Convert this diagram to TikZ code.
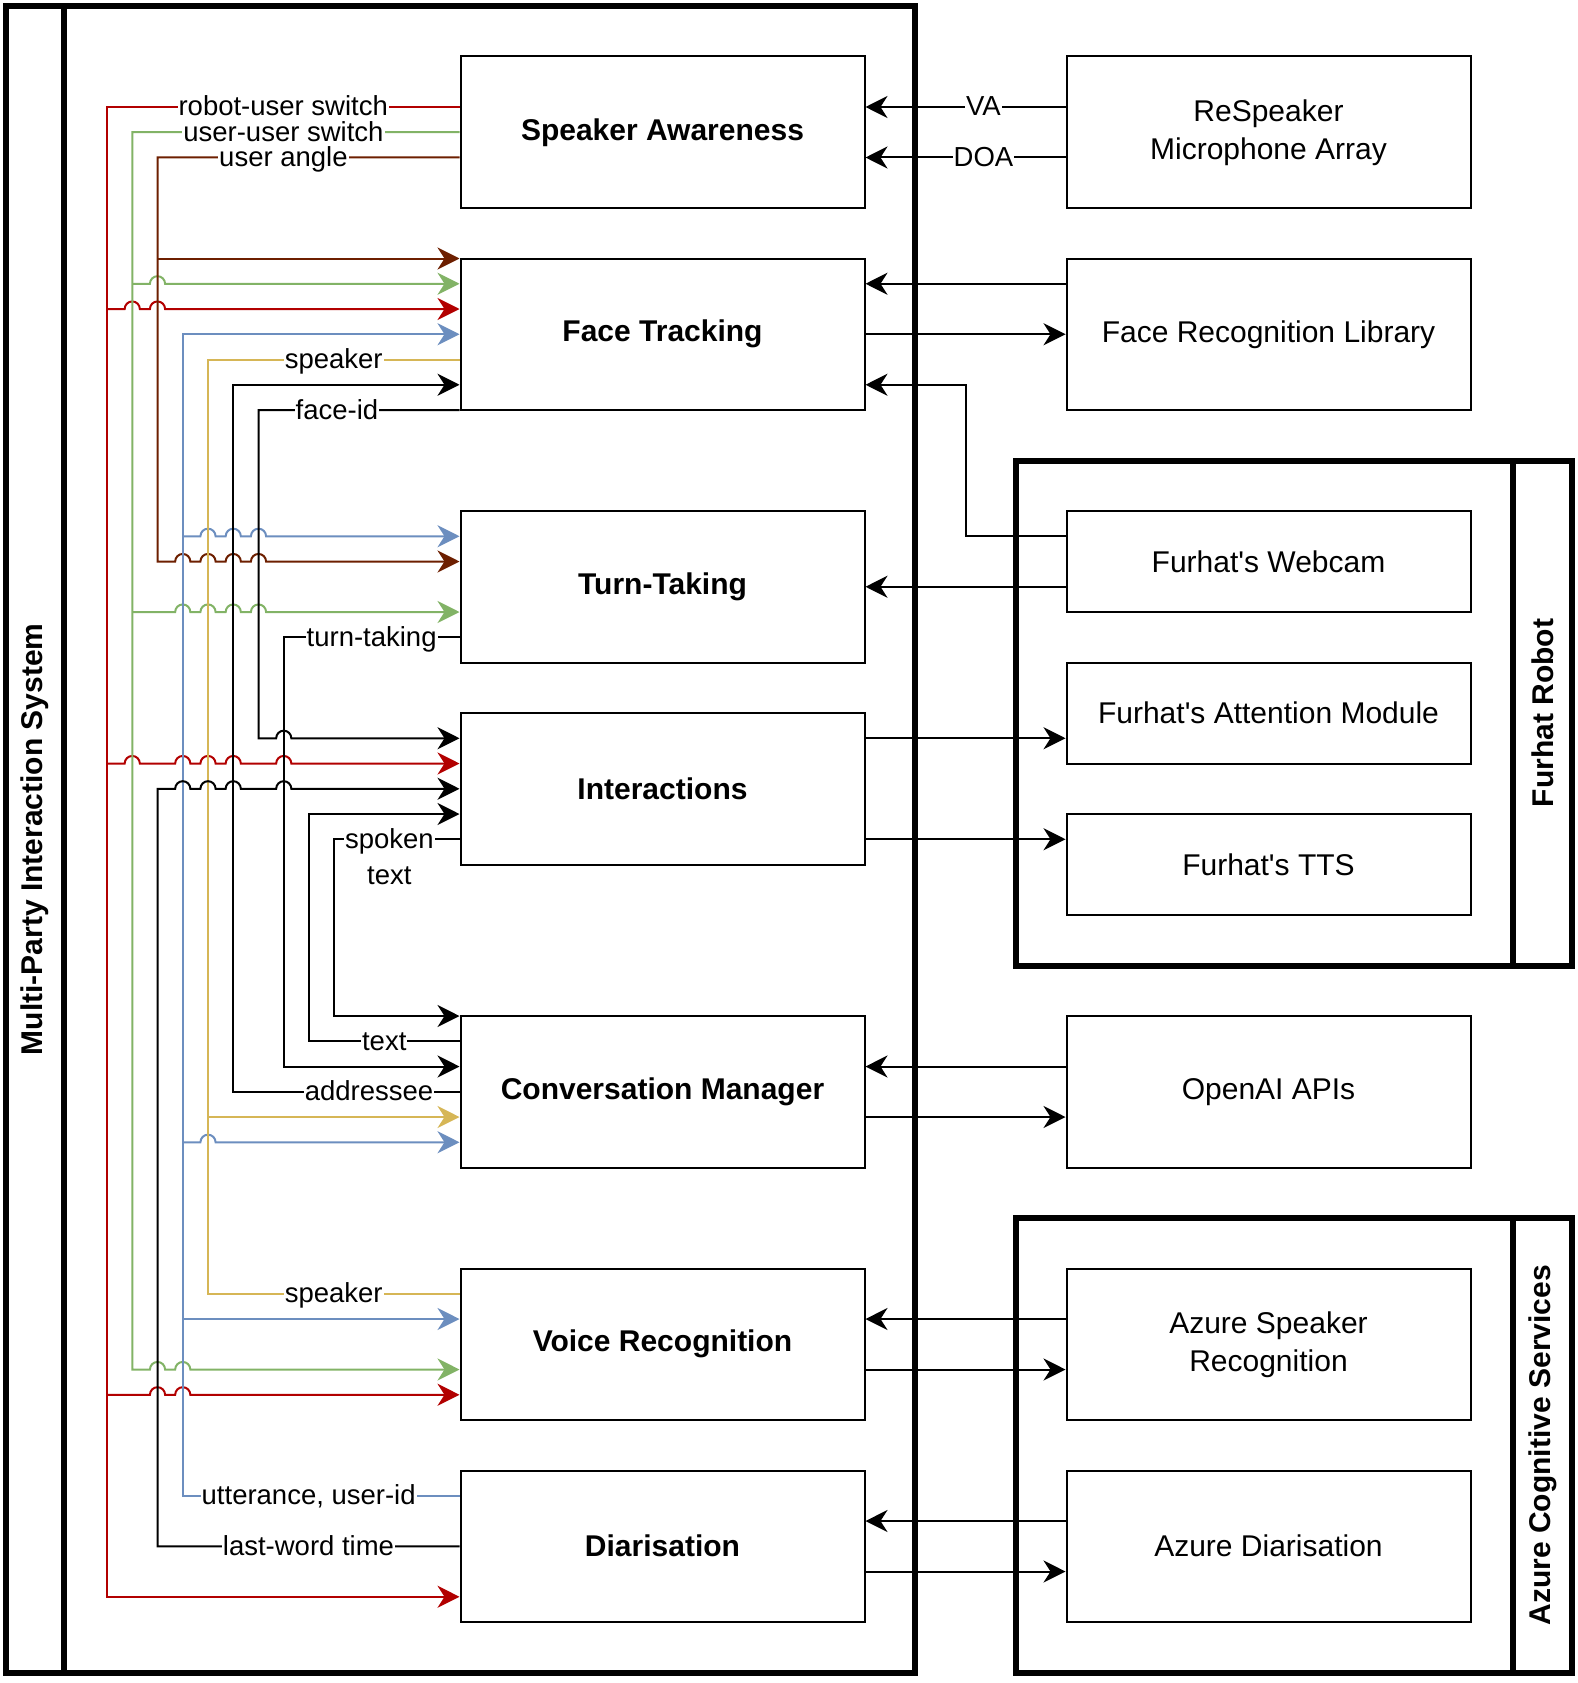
\documentclass[tikz,border=0pt]{standalone}
\usepackage{fontspec}
\setmainfont{Liberation Sans}
\usetikzlibrary{arrows.meta}
\usetikzlibrary{calc}
\usetikzlibrary{positioning}
\definecolor{crimson}{RGB}{178, 0, 0}
\definecolor{sage}{RGB}{130, 179, 102}
\definecolor{rust}{RGB}{109, 31, 0}
\definecolor{steel}{RGB}{108, 142, 191}
\definecolor{mustard}{RGB}{214, 182, 86}

\tikzset{
    module/.style={draw, line width=2pt, fill=white, minimum width=404pt, minimum height=151.5pt,
                   inner sep=0pt, align=center, font=\fontsize{30}{38}\selectfont\bfseries},
    service/.style={module, font=\fontsize{30}{38}\selectfont},
    slim/.style={minimum height=101pt},
    container/.style={draw, line width=6pt, outer sep=0pt, inner sep=0pt},
    heading/.style={rotate=90, inner sep=0pt, font=\fontsize{30}{38}\selectfont\bfseries},
    wire/.style={line width=2pt},
    feed/.style={wire, -{Stealth[length=22pt, width=22pt, inset=7pt]}},
    edgetag/.style={fill=white, text=black, inner sep=1pt, text height=20pt, text depth=2pt,
                    font=\fontsize{27.5}{36}\selectfont},
    edgetagwrap/.style={fill=white, text=black, inner sep=1pt, align=center,
                        font=\fontsize{27.5}{36}\selectfont},
}
% jump over a crossing wire
\newcommand{\hop}[2]{-- (#1-3,#2) arc[start angle=180, end angle=0, radius=7.575pt]}

\begin{document}
\begin{tikzpicture}[x=2.525pt, y=-2.525pt]
            \useasboundingbox (-2.376,-2.376) rectangle (622.57,664.16);
            % Containers
            \node[container, minimum width=909pt, minimum height=1666.5pt] (mpis) at (180,330) {};
            \draw[container] ($(mpis.north west)+(23,0)$) -- ($(mpis.south west)+(23,0)$);
            \node[heading] (mpistitle) at (11.5,330) {Multi-Party Interaction System};
            \node[container, minimum width=555.5pt, minimum height=505pt] (furhat) at (510,280) {};
            \draw[container] ($(furhat.north east)+(-23,0)$) -- ($(furhat.south east)+(-23,0)$);
            \node[heading] (furhattitle) at (608.5,280) {Furhat Robot};
            \node[container, minimum width=555.5pt, minimum height=454.5pt] (azure) at (510,570) {};
            \draw[container] ($(azure.north east)+(-23,0)$) -- ($(azure.south east)+(-23,0)$);
            \node[heading] (azuretitle) at (608.5,570) {Azure Cognitive Services};
            % Modules
            \node[module] (sa)    at (260, 50) {Speaker Awareness};
            \node[module] (ft)    at (260,130) {Face Tracking};
            \node[module] (tt)    at (260,230) {Turn-Taking};
            \node[module] (inter) at (260,310) {Interactions};
            \node[module] (cm)    at (260,430) {Conversation Manager};
            \node[module] (vr)    at (260,530) {Voice Recognition};
            \node[module] (diar)  at (260,610) {Diarisation};
            % Services
            \node[service]       (respeaker) at (500, 50) {ReSpeaker\\Microphone Array};
            \node[service]       (frl)       at (500,130) {Face Recognition Library};
            \node[service, slim] (webcam)    at (500,220) {Furhat\textquotesingle s Webcam};
            \node[service, slim] (attention) at (500,280) {Furhat\textquotesingle s Attention Module};
            \node[service, slim] (tts)       at (500,340) {Furhat\textquotesingle s TTS};
            \node[service]       (openai)    at (500,430) {OpenAI APIs};
            \node[service]       (azspk)     at (500,530) {Azure Speaker\\Recognition};
            \node[service]       (azdiar)    at (500,610) {Azure Diarisation};
            % Robot-user switch
            \draw[feed, crimson] (sa.west |- 0,40) -- node[edgetag] {robot-user switch} (40,40) -- (40,630) -- (diar.west |- 0,630);
            \draw[feed, crimson] (40,120) \hop{50}{120} \hop{60}{120} -- (ft.west |- 0,120);
            \draw[feed, crimson] (40,300) \hop{50}{300} \hop{70}{300} \hop{80}{300} \hop{90}{300} \hop{110}{300} -- (inter.west |- 0,300);
            \draw[feed, crimson] (40,550) \hop{60}{550} \hop{70}{550} -- (vr.west |- 0,550);
            % User-user switch
            \draw[feed, sage] (sa.west |- 0,50) -- node[edgetag, pos=0.538] {user-user switch} (50,50) -- (50,540) \hop{60}{540} \hop{70}{540} -- (vr.west |- 0,540);
            \draw[feed, sage] (50,110) \hop{60}{110} -- (ft.west |- 0,110);
            \draw[feed, sage] (50,240) \hop{70}{240} \hop{80}{240} \hop{90}{240} \hop{100}{240} -- (tt.west |- 0,240);
            % User angle
            \draw[feed, rust] (sa.west |- 0,60) -- node[edgetag, pos=0.583] {user angle} (60,60) -- (60,220) \hop{70}{220} \hop{80}{220} \hop{90}{220} \hop{100}{220} -- (tt.west |- 0,220);
            \draw[feed, rust] (60,100) -- (ft.west |- 0,100);
            % Utterance and user-id
            \draw[feed, steel] (diar.west |- 0,590) -- node[edgetag, pos=0.545] {utterance, user-id} (70,590) -- (70,130) -- (ft.west |- 0,130);
            \draw[feed, steel] (70,210) \hop{80}{210} \hop{90}{210} \hop{100}{210} -- (tt.west |- 0,210);
            \draw[feed, steel] (70,450) \hop{80}{450} -- (cm.west |- 0,450);
            \draw[feed, steel] (70,520) -- (vr.west |- 0,520);
            % Speaker
            \draw[feed, mustard] (ft.west |- 0,140) -- node[edgetag] {speaker} (80,140) -- (80,440) -- (cm.west |- 0,440);
            \draw[wire, mustard] (vr.west |- 0,510) -- node[edgetag] {speaker} (80,510) -- (80,440);
            % Black wires
            \draw[feed] (cm.west |- 0,430) -- node[edgetag, pos=0.4] {addressee} (90,430) -- (90,150) -- (ft.west |- 0,150);
            \draw[feed] (ft.west |- 0,160) -- node[edgetag, pos=0.61] {face-id} (100,160) -- (100,290) \hop{110}{290} -- (inter.west |- 0,290);
            \draw[feed] (tt.west |- 0,250) -- node[edgetag] {turn-taking} (110,250) -- (110,420) -- (cm.west |- 0,420);
            \draw[feed] (inter.west |- 0,330) -- node[edgetagwrap, pos=0.56, anchor=north, yshift=13pt] {spoken\\text} (130,330) -- (130,400) -- (cm.west |- 0,400);
            \draw[feed] (cm.west |- 0,410) -- node[edgetag] {text} (120,410) -- (120,320) -- (inter.west |- 0,320);
            \draw[feed] (diar.west |- 0,610) -- node[edgetag] {last-word time} (60,610) -- (60,310) \hop{70}{310} \hop{80}{310} \hop{90}{310} \hop{110}{310} -- (inter.west |- 0,310);
            % Outside services
            \draw[feed] (respeaker.west |- 0,40) -- node[edgetag, pos=0.41] {VA} (sa.east |- 0,40);
            \draw[feed] (respeaker.west |- 0,60) -- node[edgetag, pos=0.41] {DOA} (sa.east |- 0,60);
            \draw[feed] (frl.west |- 0,110) -- (ft.east |- 0,110);
            \draw[feed] (ft.east |- 0,130) -- (frl.west |- 0,130);
            \draw[feed] (webcam.west |- 0,210) -- (380,210) -- (380,150) -- (ft.east |- 0,150);
            \draw[feed] (webcam.west |- 0,230) -- (tt.east |- 0,230);
            \draw[feed] (inter.east |- 0,290) -- (attention.west |- 0,290);
            \draw[feed] (inter.east |- 0,330) -- (tts.west |- 0,330);
            \draw[feed] (openai.west |- 0,420) -- (cm.east |- 0,420);
            \draw[feed] (cm.east |- 0,440) -- (openai.west |- 0,440);
            \draw[feed] (azspk.west |- 0,520) -- (vr.east |- 0,520);
            \draw[feed] (vr.east |- 0,540) -- (azspk.west |- 0,540);
            \draw[feed] (azdiar.west |- 0,600) -- (diar.east |- 0,600);
            \draw[feed] (diar.east |- 0,620) -- (azdiar.west |- 0,620);
\end{tikzpicture}
\end{document}
